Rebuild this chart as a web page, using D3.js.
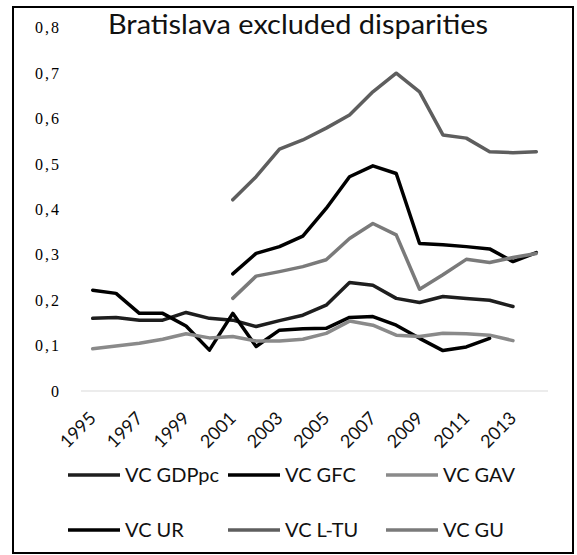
<!DOCTYPE html>
<html>
<head>
<meta charset="utf-8">
<script src="https://cdn.jsdelivr.net/npm/d3@7"></script>
<style>
  body { margin: 0; background: #fff; }
  svg text { font-family: Lato, "Open Sans", sans-serif; }
</style>
</head>
<body>
<svg id="chart" width="577" height="555"></svg>
<script>
// Years on the category axis
const years = [1995, 1996, 1997, 1998, 1999, 2000, 2001, 2002, 2003, 2004,
               2005, 2006, 2007, 2008, 2009, 2010, 2011, 2012, 2013, 2014];

// Tick labels shown under the axis (every second year)
const yearLabels = [1995, 1997, 1999, 2001, 2003, 2005, 2007, 2009, 2011, 2013];
const valueTicks = [0, 0.1, 0.2, 0.3, 0.4, 0.5, 0.6, 0.7, 0.8];

// Coefficients of variation, one value per year (null = no data)
const vcGDPpc = [0.160, 0.162, 0.156, 0.156, 0.173, 0.160, 0.156, 0.142, 0.155, 0.167,
                 0.189, 0.239, 0.233, 0.204, 0.195, 0.208, 0.204, 0.200, 0.186, null];
const vcGFC   = [0.222, 0.215, 0.171, 0.171, 0.143, 0.090, 0.171, 0.098, 0.134, 0.137,
                 0.138, 0.162, 0.164, 0.145, 0.116, 0.089, 0.097, 0.116, null, null];
const vcGAV   = [0.093, 0.099, 0.105, 0.114, 0.126, 0.117, 0.120, 0.110, 0.110, 0.114,
                 0.127, 0.154, 0.145, 0.123, 0.120, 0.127, 0.126, 0.123, 0.111, null];
const vcUR    = [null, null, null, null, null, null, 0.258, 0.303, 0.318, 0.341,
                 0.402, 0.472, 0.496, 0.479, 0.325, 0.322, 0.318, 0.313, 0.285, 0.305];
const vcLTU   = [null, null, null, null, null, null, 0.421, 0.472, 0.533, 0.553,
                 0.579, 0.608, 0.659, 0.700, 0.659, 0.564, 0.557, 0.527, 0.525, 0.527];
const vcGU    = [null, null, null, null, null, null, 0.204, 0.253, 0.263, 0.274,
                 0.289, 0.336, 0.369, 0.344, 0.224, 0.256, 0.290, 0.283, 0.294, 0.303];

const seriesNames  = ["VC GDPpc", "VC GFC", "VC GAV", "VC UR", "VC L-TU", "VC GU"];
const seriesValues = [vcGDPpc, vcGFC, vcGAV, vcUR, vcLTU, vcGU];
const seriesColors = ["#1e1e1e", "#000000", "#8a8a8a", "#000000", "#5e5e5e", "#7a7a7a"];

const series = seriesNames.map((name, i) => ({
  name,
  color: seriesColors[i],
  points: years.map((yr, j) => ({ year: yr, value: seriesValues[i][j] }))
}));

const svg = d3.select("#chart");

// Outer chart frame
svg.append("rect")
  .attr("x", 13).attr("y", 7)
  .attr("width", 560).attr("height", 546)
  .attr("fill", "#fff")
  .attr("stroke", "#000")
  .attr("stroke-width", 2);

const plot = { left: 81, right: 548, top: 27.8, bottom: 391 };

const x = d3.scaleBand().domain(years).range([plot.left, plot.right]);
const xc = yr => x(yr) + x.bandwidth() / 2;
const y = d3.scaleLinear().domain([0, 0.8]).range([plot.bottom, plot.top]);

// Title
svg.append("text")
  .attr("x", 298).attr("y", 34)
  .attr("text-anchor", "middle")
  .attr("font-size", 26)
  .attr("textLength", 380)
  .attr("lengthAdjust", "spacingAndGlyphs")
  .attr("fill", "#111")
  .text("Bratislava excluded disparities");

// Value axis: labels only, no line
const yAxis = d3.axisLeft(y)
  .tickValues(valueTicks)
  .tickSize(0)
  .tickPadding(0)
  .tickFormat(d => d === 0 ? "0" : d3.format(".1f")(d).replace(".", ","));

const yg = svg.append("g")
  .attr("transform", `translate(61,0)`)
  .call(yAxis);
yg.select(".domain").remove();
yg.selectAll("text")
  .style("font-family", "'Liberation Serif', serif")
  .style("letter-spacing", "2px")
  .attr("font-size", 16)
  .attr("fill", "#000");

// Baseline at zero
svg.append("line")
  .attr("x1", plot.left).attr("x2", plot.right)
  .attr("y1", y(0)).attr("y2", y(0))
  .attr("stroke", "#d9d9d9")
  .attr("stroke-width", 1);

// Category axis with rotated year labels
const xAxis = d3.axisBottom(x)
  .tickValues(yearLabels)
  .tickSize(0)
  .tickPadding(0);

const xg = svg.append("g")
  .attr("transform", `translate(0,${y(0)})`)
  .call(xAxis);
xg.select(".domain").remove();
xg.selectAll("text")
  .attr("font-size", 18)
  .attr("fill", "#111")
  .attr("text-anchor", "end")
  .attr("dy", "0.35em")
  .attr("transform", "translate(0,24) rotate(-45)");

// Series lines
const line = d3.line()
  .defined(d => d.value !== null)
  .x(d => xc(d.year))
  .y(d => y(d.value));

svg.append("g")
  .selectAll("path")
  .data(series)
  .join("path")
  .attr("d", d => line(d.points))
  .attr("fill", "none")
  .attr("stroke", d => d.color)
  .attr("stroke-width", 3.5)
  .attr("stroke-linejoin", "round")
  .attr("stroke-linecap", "round");

// Legend: two rows of three
const legendCols = [68, 228, 386];
const legendRows = [475, 530];
const legend = svg.append("g")
  .selectAll("g")
  .data(series)
  .join("g")
  .attr("transform", (d, i) => `translate(${legendCols[i % 3]},${legendRows[Math.floor(i / 3)]})`);

legend.append("line")
  .attr("x1", 0).attr("x2", 52)
  .attr("y1", 0).attr("y2", 0)
  .attr("stroke", d => d.color)
  .attr("stroke-width", 3.5);

legend.append("text")
  .attr("x", 57).attr("y", 0)
  .attr("dy", "0.35em")
  .attr("font-size", 20)
  .attr("fill", "#111")
  .text(d => d.name);
</script>
</body>
</html>
